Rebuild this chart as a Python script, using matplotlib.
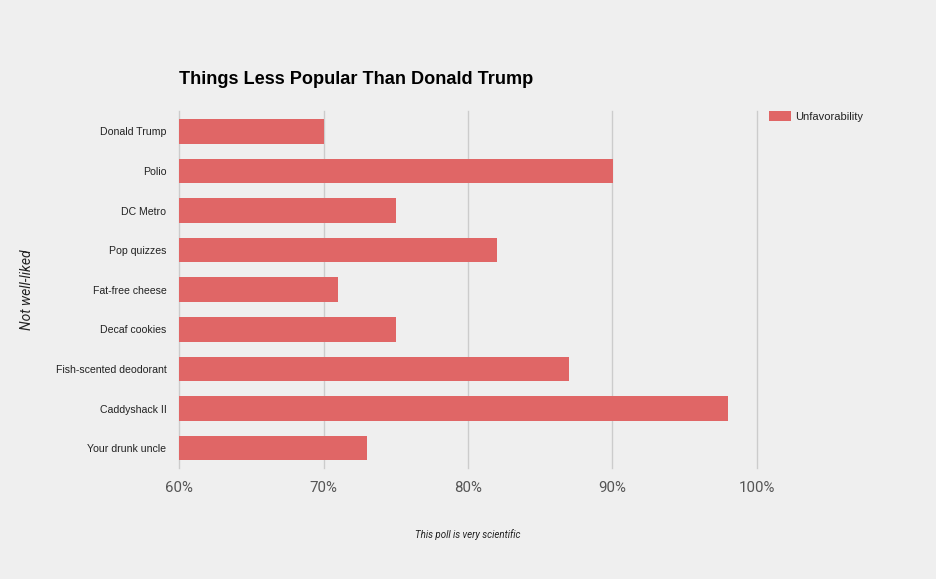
import matplotlib.pyplot as plt
from matplotlib.ticker import FuncFormatter

categories = ['Donald Trump', 'Polio', 'DC Metro', 'Pop quizzes', 'Fat-free cheese',
              'Decaf cookies', 'Fish-scented deodorant', 'Caddyshack II', 'Your drunk uncle']
unfavorability = [70, 90, 75, 82, 71, 75, 87, 98, 73]
xticks = [60, 70, 80, 90, 100]

bg = '#efefef'
bar_color = '#e06666'

plt.rcParams['font.family'] = ['Liberation Sans', 'DejaVu Sans']

fig = plt.figure(figsize=(9.37, 5.79), dpi=100, facecolor=bg)
ax = fig.add_axes([179 / 937, 1 - 468 / 579, (757 - 179) / 937, (468 - 111.5) / 579])
ax.set_facecolor(bg)

pos = list(range(len(categories)))
ax.barh(pos, [v - 60 for v in unfavorability], left=60, height=0.62,
        color=bar_color, label='Unfavorability', zorder=2)
ax.set_yticks(pos)
ax.set_yticklabels(categories, fontsize=7.6, color='#222222')
ax.set_ylim(len(categories) - 0.5, -0.5)

ax.set_xlim(60, 100)
ax.set_xticks(xticks)
ax.xaxis.set_major_formatter(FuncFormatter(lambda v, p: f'{v:.0f}%'))
for lbl in ax.get_xticklabels():
    lbl.set_family(['Roboto', 'DejaVu Sans'])
ax.tick_params(axis='x', labelsize=10.8, labelcolor='#555555', length=0, pad=9)
ax.tick_params(axis='y', length=0, pad=9)
ax.grid(axis='x', color='#cccccc', linewidth=1, zorder=0)
for gl in ax.get_xgridlines():
    gl.set_clip_on(False)
for s in ax.spines.values():
    s.set_visible(False)

fig.text(179 / 937, 1 - 84 / 579, 'Things Less Popular Than Donald Trump',
         fontsize=13.1, fontweight='bold', color='black', ha='left', va='baseline')
fig.text(27 / 937, 1 - 290 / 579, 'Not well-liked', rotation=90, style='italic',
         fontsize=10, color='#222222', ha='center', va='center',
         family=['Roboto', 'DejaVu Sans'])
fig.text(468 / 937, 1 - 535 / 579, 'This poll is very scientific', style='italic',
         fontsize=7, color='#222222', ha='center', va='center',
         family=['Roboto', 'DejaVu Sans'])

ax.legend(loc='upper left', bbox_to_anchor=(769 / 937, 1 - 111.5 / 579),
          bbox_transform=fig.transFigure, frameon=False, fontsize=8,
          handlelength=2.0, handleheight=1.0, handletextpad=0.35, borderpad=0,
          borderaxespad=0, labelcolor='#222222')

fig.savefig('out.png', dpi=100, facecolor=bg)
